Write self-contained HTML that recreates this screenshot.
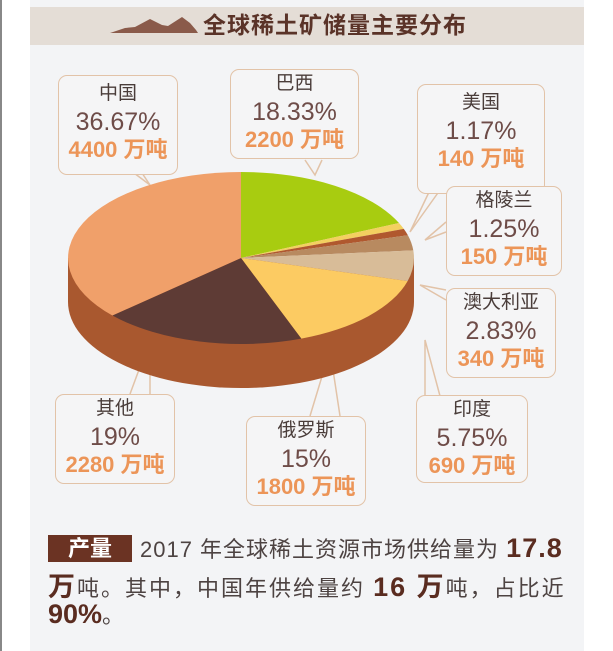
<!DOCTYPE html>
<html><head><meta charset="utf-8"><style>
body{margin:0;width:613px;height:651px;background:#fff;overflow:hidden;font-family:"Liberation Sans","Noto Sans CJK SC",sans-serif;}
.panel{position:absolute;left:30px;top:0;width:554px;height:651px;background:#f3f4f6;}
.hdr{position:absolute;left:30px;top:7px;width:554px;height:38px;background:#e4ddd6;}
.title{position:absolute;left:203px;top:6px;font-size:23px;font-weight:bold;color:#5a3328;letter-spacing:1px;}
.box{position:absolute;border:1.5px solid #e2c3a8;border-radius:9px;background:#f5f5f6;text-align:center;line-height:28px;}
.n{font-size:19px;color:#4a3d3a;}
.p{font-size:25px;color:#6e4c48;}
.t{font-size:22px;color:#ec9558;font-weight:bold;}
.txt{position:absolute;left:48px;font-size:22px;color:#4d4342;white-space:nowrap;}
.b{font-weight:bold;color:#5a2c20;font-size:27px;}
</style></head><body>
<div style="position:absolute;left:0;top:0;width:2px;height:651px;background:#888"></div>
<div class="panel"></div>
<div class="hdr"></div>
<svg style="position:absolute;left:0;top:0" width="613" height="651">
<path d="M110,33 L125,28 L135,27 L150,19 L162,25 L168,26 L182,17 L190,23 L196,30 L198,33 Z" fill="#8a5a4a"/>
<g stroke="#e2c3a8" stroke-width="1.5" fill="none">
<path d="M130,170 L150,185 L140,170"/>
<path d="M305,160 L315,175 L322,160"/>
<path d="M430,190 L410,232 L440,190"/>
<path d="M446,222 L425,240 L446,232"/>
<path d="M446,300 L420,285 L446,290"/>
<path d="M425,396 L425,340 L440,396"/>
<path d="M130,394 L150,340 L150,394"/>
<path d="M310,416 L330,350 L340,416"/>
</g>
<path d="M68,258 L68,302 A173,86 0 0 0 414,302 L414,258 Z" fill="#a9582f"/>
<path d="M241,258 L241,172 A173,86 0 0 1 399,223 Z" fill="#a8cc10"/>
<path d="M241,258 L399,223 A173,86 0 0 1 403.8,228.9 Z" fill="#f3d060"/>
<path d="M241,258 L403.8,228.9 A173,86 0 0 1 407.9,235.3 Z" fill="#b0582e"/>
<path d="M241,258 L407.9,235.3 A173,86 0 0 1 413.3,250.4 Z" fill="#b88a60"/>
<path d="M241,258 L413.3,250.4 A173,86 0 0 1 407.6,281.1 Z" fill="#d8bc98"/>
<path d="M241,258 L407.6,281.1 A173,86 0 0 1 301.3,338.6 Z" fill="#fccb62"/>
<path d="M241,258 L301.3,338.6 A173,86 0 0 1 112.4,315.5 Z" fill="#5e3b35"/>
<path d="M241,258 L112.4,315.5 A173,86 0 0 1 241,172 Z" fill="#f0a06a"/>
</svg>
<div class="title">全球稀土矿储量主要分布</div>
<div class="box" style="left:58px;top:75px;width:118px;height:94px;padding-top:4px"><div class="n">中国</div><div class="p">36.67%</div><div class="t">4400 万吨</div></div>
<div class="box" style="left:230px;top:69px;width:127px;height:88px;"><div class="n">巴西</div><div class="p">18.33%</div><div class="t">2200 万吨</div></div>
<div class="box" style="left:417px;top:84px;width:126px;height:104px;padding-top:4px"><div class="n">美国</div><div class="p">1.17%</div><div class="t">140 万吨</div></div>
<div class="box" style="left:446px;top:186px;width:114px;height:88px;"><div class="n">格陵兰</div><div class="p">1.25%</div><div class="t">150 万吨</div></div>
<div class="box" style="left:446px;top:288px;width:108px;height:88px;"><div class="n">澳大利亚</div><div class="p">2.83%</div><div class="t">340 万吨</div></div>
<div class="box" style="left:416px;top:395px;width:110px;height:86px;"><div class="n">印度</div><div class="p">5.75%</div><div class="t">690 万吨</div></div>
<div class="box" style="left:55px;top:394px;width:118px;height:88px;"><div class="n">其他</div><div class="p">19%</div><div class="t">2280 万吨</div></div>
<div class="box" style="left:246px;top:416px;width:118px;height:88px;"><div class="n">俄罗斯</div><div class="p">15%</div><div class="t">1800 万吨</div></div>
<div style="position:absolute;left:48px;top:535px;width:84px;height:27px;background:#6b3323;color:#fff;font-size:22px;font-weight:bold;text-align:center;line-height:27px">产量</div>
<div class="txt" style="left:140px;top:532px;letter-spacing:1px">2017 年全球稀土资源市场供给量为 <span class="b">17.8</span></div>
<div class="txt" style="top:565px;letter-spacing:2px"><span class="b">万</span>吨。其中，中国年供给量约 <span class="b">16 万</span>吨，占比近</div>
<div class="txt" style="top:598px"><span class="b">90%</span>。</div>
</body></html>
